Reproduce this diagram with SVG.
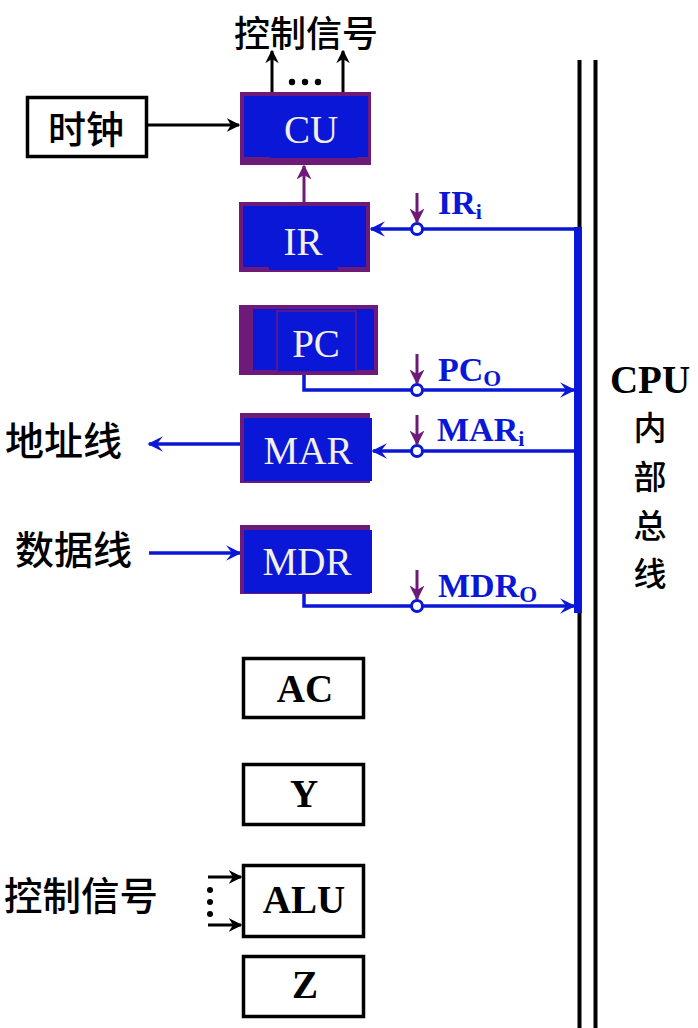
<svg xmlns="http://www.w3.org/2000/svg" width="698" height="1028" viewBox="0 0 698 1028">
<style>
.cjk{font-family:"Noto Sans CJK SC","Noto Sans",sans-serif;font-weight:500;fill:#000}
.reg{font-family:"Liberation Serif",serif;font-size:39px;fill:#f2efe6;text-anchor:middle}
.bold{font-family:"Liberation Serif",serif;font-weight:bold;font-size:39px;fill:#000;text-anchor:middle}
.lbl{font-family:"Liberation Serif",serif;font-weight:bold;font-size:34px;fill:#0a17d6}
.pur{fill:#6e1a78}
.blu{fill:#0a17d6}
.wbox{fill:#fff;stroke:#000;stroke-width:3.5}
.bl{stroke:#0a17d6;stroke-width:3.5;fill:none}
.bk{stroke:#000;stroke-width:3;fill:none}
.pl{stroke:#6e1a78;stroke-width:3;fill:none}
.sw{fill:#fff;stroke:#0a17d6;stroke-width:3}
</style>
<defs>
<marker id="ab" viewBox="0 0 10 10" refX="9" refY="5" markerWidth="4.5" markerHeight="4.5" markerUnits="strokeWidth" orient="auto">
<path d="M0,0 L10,5 L0,10 L3,5 Z" fill="#000"/>
</marker>
<marker id="abl" viewBox="0 0 10 10" refX="9" refY="5" markerWidth="4.5" markerHeight="4.5" markerUnits="strokeWidth" orient="auto">
<path d="M0,0 L10,5 L0,10 L4,5 Z" fill="#0a17d6"/>
</marker>
<marker id="ap" viewBox="0 0 10 10" refX="9" refY="5" markerWidth="5" markerHeight="5" markerUnits="strokeWidth" orient="auto">
<path d="M0,0 L10,5 L0,10 L3,5 Z" fill="#6e1a78"/>
</marker>
</defs>

<!-- Bus -->
<g id="bus">
<line x1="579.5" y1="60" x2="579.5" y2="1028" stroke="#000" stroke-width="4"/>
<line x1="595.5" y1="60" x2="595.5" y2="1028" stroke="#000" stroke-width="4"/>
<rect x="574" y="227" width="8" height="386" class="blu"/>
<text class="bold" x="650" y="393" font-size="37">CPU</text>
<text class="cjk" font-size="33" text-anchor="middle" x="650" y="440">内</text>
<text class="cjk" font-size="33" text-anchor="middle" x="650" y="489">部</text>
<text class="cjk" font-size="33" text-anchor="middle" x="650" y="538">总</text>
<text class="cjk" font-size="33" text-anchor="middle" x="650" y="586">线</text>
</g>

<!-- Connectors -->
<g id="connectors">
<line x1="148" y1="125" x2="239" y2="125" class="bk" marker-end="url(#ab)"/>
<line x1="272" y1="92" x2="272" y2="51" class="bk" marker-end="url(#ab)"/>
<line x1="343" y1="92" x2="343" y2="51" class="bk" marker-end="url(#ab)"/>
<circle cx="292" cy="82" r="3.2" fill="#000"/>
<circle cx="305" cy="82" r="3.2" fill="#000"/>
<circle cx="318" cy="82" r="3.2" fill="#000"/>
<line x1="304" y1="202" x2="304" y2="166" class="pl" marker-end="url(#ap)"/>

<polyline points="578,229 371,229" class="bl" marker-end="url(#abl)"/>
<polyline points="304,375 304,390 574,390" class="bl" marker-end="url(#abl)"/>
<polyline points="578,451 373,451" class="bl" marker-end="url(#abl)"/>
<polyline points="304,594 304,606 574,606" class="bl" marker-end="url(#abl)"/>
<line x1="240" y1="444" x2="149" y2="444" class="bl" marker-end="url(#abl)"/>
<line x1="149" y1="553" x2="240" y2="553" class="bl" marker-end="url(#abl)"/>

<circle cx="417" cy="229" r="5.5" class="sw"/>
<circle cx="417" cy="390" r="5.5" class="sw"/>
<circle cx="417" cy="451" r="5.5" class="sw"/>
<circle cx="417" cy="606" r="5.5" class="sw"/>
<line x1="417" y1="193" x2="417" y2="222" class="pl" marker-end="url(#ap)"/>
<line x1="417" y1="354" x2="417" y2="383" class="pl" marker-end="url(#ap)"/>
<line x1="417" y1="415" x2="417" y2="444" class="pl" marker-end="url(#ap)"/>
<line x1="417" y1="570" x2="417" y2="599" class="pl" marker-end="url(#ap)"/>

<text class="lbl" x="438" y="214">IR<tspan font-size="22" dy="5">i</tspan></text>
<text class="lbl" x="438" y="381">PC<tspan font-size="23" dy="5">O</tspan></text>
<text class="lbl" x="437" y="441">MAR<tspan font-size="22" dy="5">i</tspan></text>
<text class="lbl" x="438" y="597">MDR<tspan font-size="23" dy="5">O</tspan></text>

<line x1="208" y1="877" x2="241" y2="877" class="bk" marker-end="url(#ab)"/>
<line x1="208" y1="925" x2="241" y2="925" class="bk" marker-end="url(#ab)"/>
<circle cx="210" cy="890" r="3" fill="#000"/>
<circle cx="210" cy="902" r="3" fill="#000"/>
<circle cx="210" cy="914" r="3" fill="#000"/>
</g>

<!-- Texts -->
<g id="top-signal"><text class="cjk" font-size="36" text-anchor="middle" x="306" y="47">控制信号</text></g>
<g id="addr-line"><text class="cjk" font-size="39" x="5" y="455">地址线</text></g>
<g id="data-line"><text class="cjk" font-size="39" x="15" y="564">数据线</text></g>
<g id="ctrl-signal"><text class="cjk" font-size="38.5" x="4" y="910">控制信号</text></g>

<g id="clock">
<rect x="27.5" y="97.5" width="119" height="59" class="wbox"/>
<text class="cjk" font-size="38" text-anchor="middle" x="86" y="143">时钟</text>
</g>

<g id="CU">
<rect x="240" y="92" width="131" height="73" class="pur"/>
<rect x="244" y="96" width="124" height="61" class="blu"/>
<rect x="270" y="150" width="87" height="8" class="blu"/>
<text class="reg" x="311" y="143">CU</text>
</g>

<g id="IR">
<rect x="239" y="202" width="131" height="70" class="pur"/>
<rect x="243" y="206" width="123" height="61" class="blu"/>
<rect x="269" y="260" width="69" height="10" class="blu"/>
<text class="reg" x="303" y="255">IR</text>
</g>

<g id="PC">
<rect x="239" y="305" width="139" height="70" class="pur"/>
<rect x="253" y="309" width="121" height="61" class="blu"/>
<rect x="277" y="311" width="79" height="61" class="blu" stroke="#6e1a78" stroke-width="1.5"/>
<text class="reg" x="316" y="357">PC</text>
</g>

<g id="MAR">
<rect x="240" y="413" width="130" height="70" class="pur"/>
<rect x="244" y="418" width="128" height="63" class="blu"/>
<text class="reg" x="308" y="464">MAR</text>
</g>

<g id="MDR">
<rect x="240" y="525" width="130" height="69" class="pur"/>
<rect x="244" y="530" width="128" height="63" class="blu"/>
<text class="reg" x="307" y="575">MDR</text>
</g>

<g id="AC">
<rect x="243.5" y="658.5" width="120" height="59" class="wbox"/>
<text class="bold" x="305" y="702">AC</text>
</g>
<g id="Y">
<rect x="243.5" y="764.5" width="120" height="60" class="wbox"/>
<text class="bold" x="304" y="807">Y</text>
</g>
<g id="ALU">
<rect x="243.5" y="865.5" width="120" height="71" class="wbox"/>
<text class="bold" x="304" y="913">ALU</text>
</g>
<g id="Z">
<rect x="243.5" y="956.5" width="120" height="60" class="wbox"/>
<text class="bold" x="305" y="998">Z</text>
</g>
</svg>
